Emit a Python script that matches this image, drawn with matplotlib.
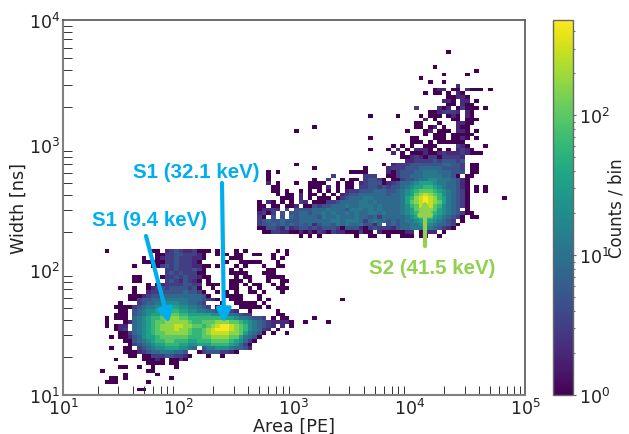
import numpy as np
import matplotlib
matplotlib.use("Agg")
import matplotlib.pyplot as plt
from matplotlib.colors import LogNorm
from matplotlib.ticker import LogLocator, NullFormatter

# counts per level character
LEVELS = {"1": 1, "2": 2, "3": 3, "4": 5, "5": 8, "6": 12, "7": 20, "8": 35,
          "9": 60, "a": 100, "b": 170, "c": 280, "d": 450}

# row (0 = top) -> "first_column:levels", '.' is an empty bin
S2_ROWS = {
    8: "83:1",
    12: "80:1",
    13: "89:1",
    14: "82:1 87:1",
    15: "77:1",
    16: "79:1 82:1",
    17: "85:2",
    18: "80:122.11.2111.1",
    19: "78:1.11.1.21",
    20: "83:11221",
    21: "82:221.22.1",
    22: "83:11.211",
    23: "76:3 81:212.13111.1",
    24: "79:1123332.21",
    25: "66:1 72:1 77:1 79:111.121.21",
    26: "78:2.1 84:11.111",
    27: "76:11 81:1 85:2211",
    28: "54:1 76:11.12.1 85:211",
    29: "50:1 74:1 78:12.111.221.1",
    30: "78:1.111.11221 86:11",
    31: "66:1 75:11 80:111.1121.1",
    32: "75:111.1 81:111111",
    33: "71:1.1.1 78:111 85:321 91:1",
    34: "66:1 70:1.2.1.2221.1.1.2321",
    35: "71:2.1.1112112322232 88:111",
    36: "73:11232133133332",
    37: "74:2233334344 84:434",
    38: "50:1 69:1.233344444445544 86:3.11",
    39: "54:1 65:1 70:23334445555544 84:443.11",
    40: "44:1.1 62:111 65:1 70:21344455666555 84:444.11",
    41: "44:1 58:3 65:333 70:11344555666655 84:41.11",
    42: "44:1 54:1 57:3 60:1 62:11.1 65:3443 69:1.113445667766655 85:421",
    43: "44:2.1 50:1 53:1111 59:1.11.2 65:3444 69:1 70:234556788876655421",
    44: "45:11 53:111.2 59:1.11.33443 69:4 70:344567889987655421 89:1 91:1",
    45: "45:11.1.. 51:1.1.1 57:1 59:1 61:233 64:44455 69:5 70:4456789aaa9876 84:5431 89:1 91:1",
    46: "46:1.11.2.11.1.1.2344 64:55555 69:5 70:455678abcba97654 86:31",
    47: "47:111.2.1.111.1 59:1345 63:55665 68:55 70:5556 74:89bcdcb98654 86:31 95:1",
    48: "42:1.21.1.1.32.1 55:113345 61:55566 66:5655 70:5556 74:8abcdcba8654 86:31",
    49: "42:11.11.2 48:11 50:2.114 55:3445 59:556 62:55666 67:565 70:5556 74:79accca97654 86:31",
    50: "42:12232.2 48:3.44 52:4455 56:56 58:5554 62:6665 66:6565 70:5556 74:78abbba87654 86:.1",
    51: "42:2313.4.4 49:44554 54:556 57:5 58:6 59:5565 63:6556 67:656 70:5556 74:789aaa98765 85:4311",
    52: "42:31.4.4.4 49:5455554 56:65 58:5655 62:56554 67:535 70:5555 74:67899 79:9876 83:54 85:31.11",
    53: "42:34544544 50:4555555 57:5665 61:6665 65:3565 69:5 70:4545 74:66788 79:87654 84:3.1",
    54: "42:3445454 49:5 50:45452 55:455465 61:6556 65:4425 70:454556677765 82:543 85:1",
    55: "42:114432523 51:44343 56:4443 60:1 61:4442 65:1343 69:3 70:3245566666 80:543 83:21",
    56: "43:1133221 50:1212132 57:1322 61:1113 65:11.22 69:1 70:111122.1222 82:1",
    57: "51:1.1.1 63:1 66:11 70:1 73:111 77:11 81:1",
    74: "60:1",
    79: "54:1",
    80: "57:1",
}

S1_ROWS = {
    61: "9:1 19:11 22:23432 27:23 29:11 31:1 33:1 37:1 39:1 46:1 48:1",
    62: "20:11 22:33443 27:332 30:1 33:1 35:1 37:11 41:11 45:1 48:1",
    63: "17:1 20:1 21:2 22:33433 27:322 30:1 36:11 38:1 45:1 47:1",
    64: "17:11 19:11 21:13343 26:3321 35:1 38:11 40:111 46:1",
    65: "15:1 19:111 21:34343 26:3322 30:11 33:1 37:1 39:1 43:1 46:11",
    66: "22:3343 26:3343 30:1 36:1 38:1 44:11",
    67: "22:34343 27:3311 36:11 38:11 43:111 45:1",
    68: "15:11 21:133 24:4343 28:3211 37:1 39:11 44:11 46:11",
    69: "15:11 22:3432 26:43 28:21 31:1 36:11 38:1 40:1 44:1 47:11",
    70: "18:1.1 21:2333 25:344 28:33 31:111 36:11 39:1 41:11 45:1 47:1",
    71: "12:1 15:1 18:1234 22:3444 26:434 29:1 32:1 36:11 40:1 42:1 46:11 48:1",
    72: "15:1 18:23344 23:4445 27:443 30:1 33:1 35:1 37:1 40:11 43:1 47:1",
    73: "14:11 16:12344 21:5555 25:5555 29:54 31:1 35:111 38:1 42:1",
    74: "14:11 16:34455 21:6666 25:6655 29:5432 33:1 36:111 42:1 44:1",
    75: "12:1 16:3455 20:6677 24:7665 28:543 34:1 37:11 39:111 43:1",
    76: "11:1111 15:3456 19:6778 23:8877 27:6654 31:3 33:1 38:1111 42:1 44:1",
    77: "12:11 15:4567 19:7889 23:9988 27:7766 31:5544 35:332 40:1 46:1",
    78: "11:111 15:4567 19:8899 23:aa99 27:8888 31:8776 35:6554 39:33 46:11",
    79: "9:1.111 15:5678 19:99aa 23:bbaa 27:9999 31:9999 35:8876 39:6544 43:3 45:1 47:11",
    80: "9:1 13:12 15:5678 19:9aab 23:bbbb 27:a99a 31:aabb 35:baa9 39:8765 43:4322 47:221 52:1",
    81: "9:1 11:12 13:2 15:5678 19:9abb 23:bccb 27:baa9 31:abcd 35:dcba 39:9765 43:432 47:2 49:1",
    82: "11:12 13:3 15:5678 19:9abb 23:bcbb 27:a99a 31:bcdd 35:dcba 39:9765 43:32 46:1",
    83: "12:11 14:3 15:5678 19:9aab 23:bbbb 27:a99a 31:bccc 35:cbba 39:8654 43:1 45:1 48:1",
    84: "10:1 12:11 14:2 15:4578 19:89aa 23:aaaa 27:999a 31:abbb 35:baa8 39:654 42:1",
    85: "13:1 14:1 15:4567 19:899a 23:a999 27:8899 31:9aaa 35:a987 39:53 41:1",
    86: "14:11 15:3456 19:7889 23:9988 27:7788 31:8999 35:9875 39:31",
    87: "10:1 13:11.3 17:4567 21:7888 25:7765 30:46 32:6777 36:6554 40:2",
    88: "13:111 15:1 16:234 19:5566 23:655 26:4.. 29:1 30:34 32:4433 36:21",
    89: "14:11.1 17:113 20:3344 24:3321 31:1 34:1",
    90: "11:1 17:11 19:121 23:1121",
    91: "18:11 20:11 23:11",
    92: "12:11 16:1 19:1 24:1",
    93: "8:1 18:11",
    94: "13:1 20:1",
    95: "10:11 13:1 23:1",
    96: "9:111 18:1",
    98: "16:11 17:1",
}

x_label = "Area [PE]"
y_label = "Width [ns]"
cbar_label = "Counts / bin"

n_bins = 100
counts = np.zeros((n_bins, n_bins))
for rows in (S2_ROWS, S1_ROWS):
    for row, runs in rows.items():
        for run in runs.split():
            start, levels = run.split(":")
            for i, ch in enumerate(levels):
                if ch != ".":
                    counts[n_bins - 1 - row, int(start) + i] = LEVELS[ch]

x_edges = np.logspace(1, 5, n_bins + 1)
y_edges = np.logspace(1, 4, n_bins + 1)

W, H = 629, 435
fig = plt.figure(figsize=(W / 100, H / 100), dpi=100)
ax = fig.add_axes([63 / W, (H - 396) / H, 462 / W, 375 / H])
cax = fig.add_axes([553 / W, (H - 396) / H, 19.5 / W, 375 / H])

mesh = ax.pcolormesh(x_edges, y_edges, np.ma.masked_equal(counts, 0),
                     cmap="viridis", norm=LogNorm(vmin=1, vmax=480))
ax.set_xscale("log")
ax.set_yscale("log")
ax.set_xlim(1e1, 1e5)
ax.set_ylim(1e1, 1e4)
ax.set_xlabel(x_label, fontsize=12.7, labelpad=-1, color="#222222")
ax.set_ylabel(y_label, fontsize=12.7, labelpad=1, color="#222222")

ax.tick_params(which="both", direction="in", top=False, right=False,
               color="#333333", width=0.7, labelsize=12.5, pad=2)
ax.tick_params(which="major", length=0, labelcolor="#222222")
ax.tick_params(which="minor", length=6.2)
ax.xaxis.set_minor_locator(LogLocator(base=10, subs=np.arange(2, 10)))
ax.yaxis.set_minor_locator(LogLocator(base=10, subs=np.arange(2, 10)))
ax.xaxis.set_minor_formatter(NullFormatter())
ax.yaxis.set_minor_formatter(NullFormatter())
for name in ("left", "bottom"):
    ax.spines[name].set_color("#808080")
    ax.spines[name].set_linewidth(1.5)
for name in ("top", "right"):
    ax.spines[name].set_color("#555555")
    ax.spines[name].set_linewidth(1.2)

cbar = fig.colorbar(mesh, cax=cax)
cbar.set_label(cbar_label, fontsize=12, labelpad=-2.5, color="#222222")
cbar.ax.tick_params(which="both", color="#666666", labelsize=12.5, labelcolor="#222222", pad=3)
cbar.ax.tick_params(which="major", length=2, width=0.8)
cbar.ax.tick_params(which="minor", length=1.5, width=0.7)
cbar.outline.set_edgecolor("#666666")
cbar.outline.set_linewidth(1.0)

BLUE = "#00aeef"
GREEN = "#92d050"


def px(x, y):
    return (x, H - y)


def note(text, x, y, color):
    fig.text(x / W, (H - y) / H, text, color=color, fontsize=14.8, fontweight="bold",
             family="Liberation Sans", ha="center", va="center")


def arrow(start, tip, color):
    ax.annotate("", xy=px(*tip), xytext=px(*start), xycoords="figure pixels",
                textcoords="figure pixels",
                arrowprops=dict(arrowstyle="-|>,head_width=0.42,head_length=0.8",
                                color=color, lw=3, shrinkA=0, shrinkB=0))


note("S1 (32.1 keV)", 196.5, 173, BLUE)
note("S1 (9.4 keV)", 150, 221, BLUE)
note("S2 (41.5 keV)", 432, 269, GREEN)
arrow((146, 237), (169, 324), BLUE)
arrow((222, 184), (224, 324), BLUE)
arrow((425, 247), (425, 201), GREEN)

fig.savefig("out.png", dpi=100)
